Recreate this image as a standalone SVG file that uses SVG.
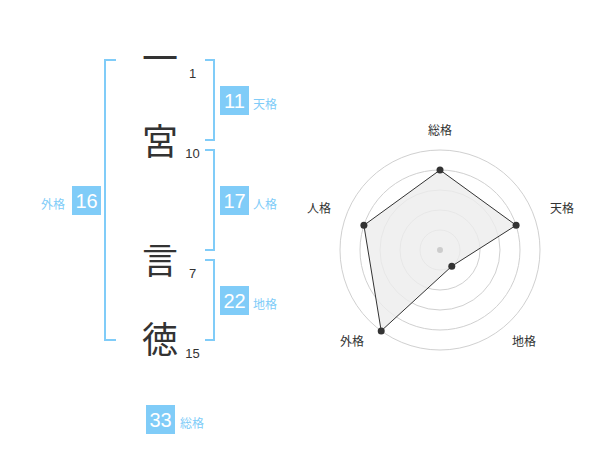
<svg xmlns="http://www.w3.org/2000/svg" width="600" height="470" viewBox="0 0 600 470">
<style>
.ch{font-family:"Noto Sans CJK JP","Noto Sans CJK SC",sans-serif;font-size:36px;fill:#333;text-anchor:middle}
.sn{font-family:"Liberation Sans",Arial,sans-serif;font-size:13px;fill:#333;text-anchor:middle}
.br{fill:none;stroke:#80ccf8;stroke-width:2}
.box{fill:#80ccf8}
.bn{font-family:"Liberation Sans",Arial,sans-serif;font-size:20px;fill:#fff;text-anchor:middle}
.lb{font-family:"Noto Sans CJK JP","Noto Sans CJK SC",sans-serif;font-size:12px;fill:#80ccf8}
.rl{font-family:"Noto Sans CJK JP","Noto Sans CJK SC",sans-serif;font-size:12px;fill:#333;text-anchor:middle}
.ring{fill:none;stroke:#d0d0d0;stroke-width:1}
.pt{fill:#333}
</style>
<rect width="600" height="470" fill="#fff"/>
<g id="chars">
<g id="c1"><text class="ch" x="160" y="72">一</text><text class="sn" x="192.5" y="78">1</text></g>
<g id="c2"><text class="ch" x="160" y="155">宮</text><text class="sn" x="192.5" y="158">10</text></g>
<g id="c3"><text class="ch" x="160" y="274">言</text><text class="sn" x="192.5" y="278">7</text></g>
<g id="c4"><text class="ch" x="160" y="353">徳</text><text class="sn" x="192.5" y="358">15</text></g>
</g>
<g id="brackets">
<path class="br" d="M116,60 H105 V340 H116"/>
<path class="br" d="M205,60 H214 V140 H205"/>
<path class="br" d="M205,150 H214 V250 H205"/>
<path class="br" d="M205,260 H214 V340 H205"/>
</g>
<g id="tenkaku"><rect class="box" x="220" y="86" width="29" height="29"/><text class="bn" x="234.5" y="107.5">11</text><text class="lb" x="253" y="109">天格</text></g>
<g id="jinkaku"><rect class="box" x="220" y="186" width="29" height="29"/><text class="bn" x="234.5" y="207.5">17</text><text class="lb" x="253" y="209">人格</text></g>
<g id="chikaku"><rect class="box" x="220" y="286" width="29" height="29"/><text class="bn" x="234.5" y="307.5">22</text><text class="lb" x="253" y="309">地格</text></g>
<g id="gaikaku"><rect class="box" x="72" y="186" width="29" height="29"/><text class="bn" x="86.5" y="207.5">16</text><text class="lb" x="65" y="209" text-anchor="end">外格</text></g>
<g id="soukaku"><rect class="box" x="146" y="405" width="29" height="29"/><text class="bn" x="160.5" y="426.5">33</text><text class="lb" x="180" y="428">総格</text></g>
<g id="radar">
<circle class="ring" cx="440" cy="250" r="20"/>
<circle class="ring" cx="440" cy="250" r="40"/>
<circle class="ring" cx="440" cy="250" r="60"/>
<circle class="ring" cx="440" cy="250" r="80"/>
<circle class="ring" cx="440" cy="250" r="100"/>
<polygon points="440,170 516.1,225.3 451.8,266.2 381.2,330.9 363.9,225.3" fill="#ececec" fill-opacity="0.8" stroke="#333" stroke-width="1"/>
<circle cx="440" cy="250" r="3" fill="#ccc"/>
<circle class="pt" cx="440" cy="170" r="3.5"/>
<circle class="pt" cx="516.1" cy="225.3" r="3.5"/>
<circle class="pt" cx="451.8" cy="266.2" r="3.5"/>
<circle class="pt" cx="381.2" cy="330.9" r="3.5"/>
<circle class="pt" cx="363.9" cy="225.3" r="3.5"/>
<text class="rl" x="440" y="135">総格</text>
<text class="rl" x="562" y="212.5">天格</text>
<text class="rl" x="524" y="346">地格</text>
<text class="rl" x="352" y="346">外格</text>
<text class="rl" x="319" y="212.5">人格</text>
</g>
</svg>
